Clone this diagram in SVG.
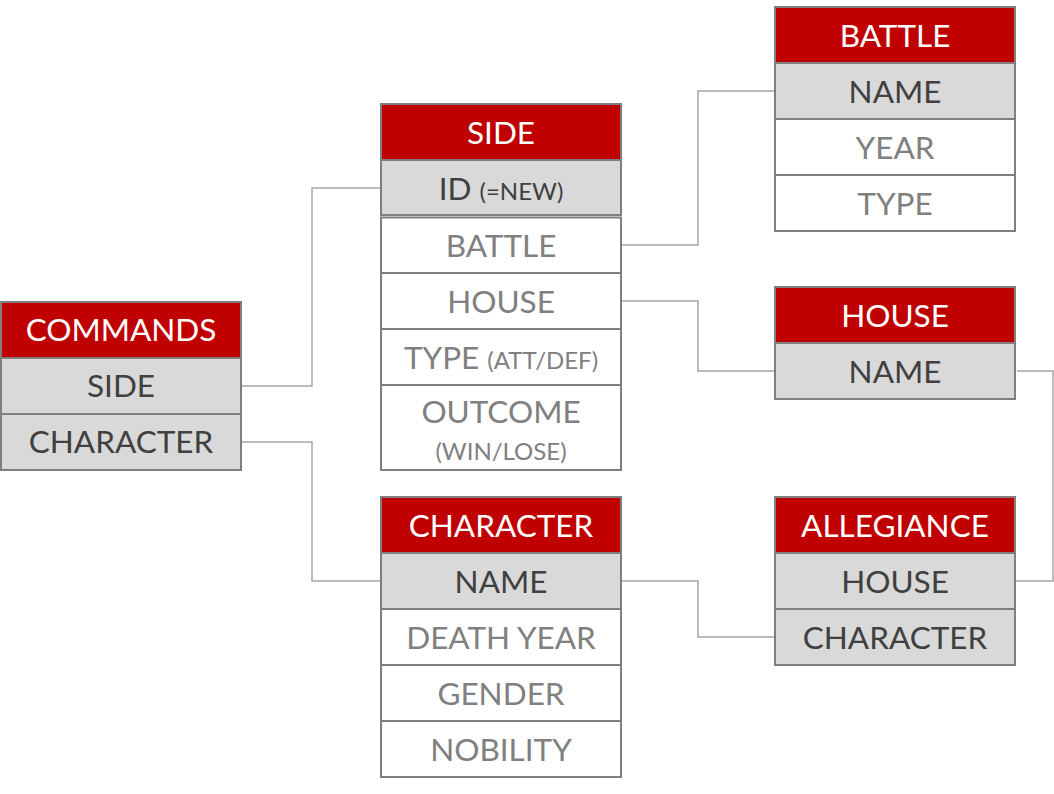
<svg xmlns="http://www.w3.org/2000/svg" width="1054" height="794" viewBox="0 0 1054 794">
<style>
.h{fill:#c00000;stroke:#7f7f7f;stroke-width:2}
.k{fill:#d9d9d9;stroke:#7f7f7f;stroke-width:2}
.w{fill:#ffffff;stroke:#7f7f7f;stroke-width:2}
text{font-family:Lato,"Open Sans",sans-serif;font-size:31.5px;text-anchor:middle}
.ht{fill:#ffffff}
.kt{fill:#404040}
.wt{fill:#808080}
.s{font-size:24px}
.c{fill:none;stroke:#a6a6a6;stroke-width:1.5}
</style>
<rect width="1054" height="794" fill="#ffffff"/>
<g id="connectors">
<polyline class="c" points="241,386 312,386 312,188 381,188"/>
<polyline class="c" points="241,442 312,442 312,581 381,581"/>
<polyline class="c" points="621,245 698,245 698,91 775,91"/>
<polyline class="c" points="621,301 698,301 698,371 775,371"/>
<polyline class="c" points="1017,371 1053,371 1053,581 1015,581"/>
<polyline class="c" points="621,581 698,581 698,637 775,637"/>
</g>
<g id="commands">
<rect class="h" x="1" y="302" width="240" height="56"/>
<rect class="k" x="1" y="358" width="240" height="56"/>
<rect class="k" x="1" y="414" width="240" height="56"/>
<text class="ht" x="121" y="341">COMMANDS</text>
<text class="kt" x="121" y="397">SIDE</text>
<text class="kt" x="121" y="453">CHARACTER</text>
</g>
<g id="side">
<rect class="h" x="381" y="104" width="240" height="56"/>
<rect class="k" x="381" y="160" width="240" height="55"/>
<rect class="w" x="381" y="217.5" width="240" height="55.5"/>
<rect class="w" x="381" y="273" width="240" height="56"/>
<rect class="w" x="381" y="329" width="240" height="56"/>
<rect class="w" x="381" y="385" width="240" height="85"/>
<text class="ht" x="501" y="144">SIDE</text>
<text class="kt" x="501" y="200">ID <tspan class="s">(=NEW)</tspan></text>
<text class="wt" x="501" y="257">BATTLE</text>
<text class="wt" x="501" y="313">HOUSE</text>
<text class="wt" x="501" y="369">TYPE <tspan class="s">(ATT/DEF)</tspan></text>
<text class="wt" x="501" y="423">OUTCOME</text>
<text class="wt s" x="501" y="460">(WIN/LOSE)</text>
</g>
<g id="battle">
<rect class="h" x="775" y="7" width="240" height="56"/>
<rect class="k" x="775" y="63" width="240" height="56"/>
<rect class="w" x="775" y="119" width="240" height="56"/>
<rect class="w" x="775" y="175" width="240" height="56"/>
<text class="ht" x="895" y="47">BATTLE</text>
<text class="kt" x="895" y="103">NAME</text>
<text class="wt" x="895" y="159">YEAR</text>
<text class="wt" x="895" y="215">TYPE</text>
</g>
<g id="house">
<rect class="h" x="775" y="287" width="240" height="56"/>
<rect class="k" x="775" y="343" width="240" height="56"/>
<text class="ht" x="895" y="327">HOUSE</text>
<text class="kt" x="895" y="383">NAME</text>
</g>
<g id="allegiance">
<rect class="h" x="775" y="497" width="240" height="56"/>
<rect class="k" x="775" y="553" width="240" height="56"/>
<rect class="k" x="775" y="609" width="240" height="56"/>
<text class="ht" x="895" y="537">ALLEGIANCE</text>
<text class="kt" x="895" y="593">HOUSE</text>
<text class="kt" x="895" y="649">CHARACTER</text>
</g>
<g id="character">
<rect class="h" x="381" y="497" width="240" height="56"/>
<rect class="k" x="381" y="553" width="240" height="56"/>
<rect class="w" x="381" y="609" width="240" height="56"/>
<rect class="w" x="381" y="665" width="240" height="56"/>
<rect class="w" x="381" y="721" width="240" height="56"/>
<text class="ht" x="501" y="537">CHARACTER</text>
<text class="kt" x="501" y="593">NAME</text>
<text class="wt" x="501" y="649">DEATH YEAR</text>
<text class="wt" x="501" y="705">GENDER</text>
<text class="wt" x="501" y="761">NOBILITY</text>
</g>
</svg>
